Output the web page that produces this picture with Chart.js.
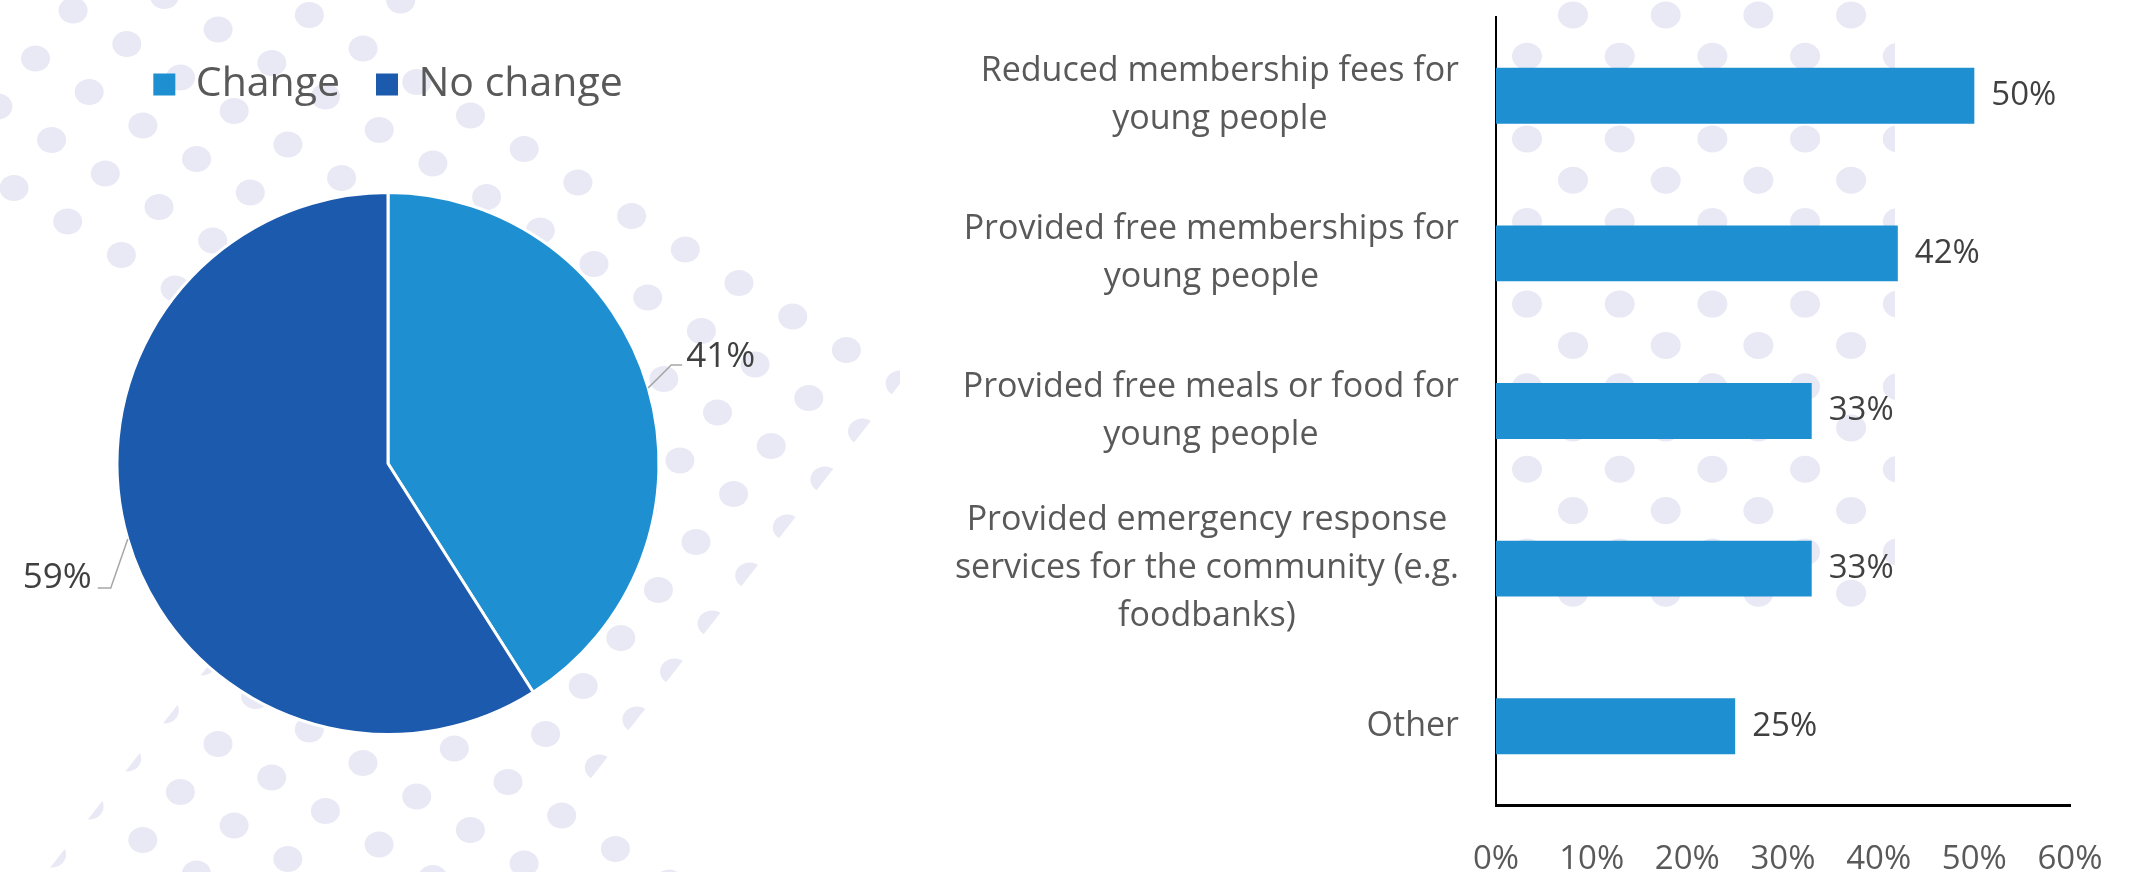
<!DOCTYPE html>
<html lang="en">
<head>
<meta charset="utf-8">
<title>Youth support</title>
<script src="https://cdn.jsdelivr.net/npm/chart.js@4.4.1/dist/chart.umd.min.js"></script>
<style>
    html, body { margin: 0; padding: 0; background: #ffffff; }
    body { width: 2129px; height: 872px; position: relative; overflow: hidden; }
    .chart-box { position: absolute; top: 0; height: 872px; }
    #pieBox { left: 0; width: 900px; }
    #barBox { left: 900px; width: 1229px; }
</style>
</head>
<body>
<div class="chart-box" id="pieBox"><canvas id="pieChart"></canvas></div>
<div class="chart-box" id="barBox"><canvas id="barChart"></canvas></div>

<script>
// Datos del gráfico circular
const pieLabels = ['Change', 'No change'];
const pieValues = [41, 59];

// Datos del gráfico de barras (cada categoría en líneas)
const barCategories = [
    ['Reduced membership fees for', 'young people'],
    ['Provided free memberships for', 'young people'],
    ['Provided free meals or food for', 'young people'],
    ['Provided emergency response', 'services for the community (e.g.', 'foodbanks)'],
    ['Other']
];
const barValues = [50, 42, 33, 33, 25];
const xTicks = [0, 10, 20, 30, 40, 50, 60];

// Colores y estilos
const COLOR_CHANGE = '#1E8FD0';
const COLOR_NO_CHANGE = '#1B5AAD';
const TEXT_DARK = '#404040';
const TEXT_MID = '#595959';
const DOT_COLOR = '#E8E9F5';
const FONT = "'Open Sans', sans-serif";

// Desplazamiento de las líneas guía de cada porción
const leaderOffsets = [
    { dx: 23, dy: -23, tail: 11, gap: 4, base: 2 },
    { dx: -17, dy: 49, tail: 13, gap: 6, base: 0 }
];

Chart.defaults.font.family = FONT;

// Dibujar un punto decorativo
function drawDot(ctx, x, y, rx, ry) {
    ctx.beginPath();
    ctx.ellipse(x, y, rx, ry, 0, 0, Math.PI * 2);
    ctx.fill();
}

// Recortar a un semiplano (lado "keep" de la recta por q con normal n)
function clipHalfPlane(ctx, qx, qy, nx, ny, offset, keepPositive) {
    const dx = -ny, dy = nx;
    const s = keepPositive ? 1 : -1;
    const bx = qx + nx * offset, by = qy + ny * offset;
    ctx.beginPath();
    ctx.moveTo(bx + dx * 200, by + dy * 200);
    ctx.lineTo(bx - dx * 200, by - dy * 200);
    ctx.lineTo(bx - dx * 200 + s * nx * 200, by - dy * 200 + s * ny * 200);
    ctx.lineTo(bx + dx * 200 + s * nx * 200, by + dy * 200 + s * ny * 200);
    ctx.closePath();
    ctx.clip();
}

// Fondo de puntos en diagonal detrás del gráfico circular
const pieDots = {
    id: 'pieDots',
    beforeDraw(chart) {
        const ctx = chart.ctx;
        const ox = 14, oy = 188;
        const ax = 91.3, ay = -14.5, bx = 53.7, by = 33.5;
        let nx = 48, ny = 37.6;
        const nl = Math.hypot(nx, ny);
        nx /= nl; ny /= nl;
        ctx.save();
        ctx.fillStyle = DOT_COLOR;
        for (let i = -12; i <= 7; i++) {
            for (let j = -8; j <= 24; j++) {
                const s = i + j;
                if (i > 5 && !(i === 6 && j <= -3)) continue;
                if (i < 0 && s < 7) continue;
                if (s > 13 && i >= -3) continue;
                const x = ox + i * ax + j * bx;
                const y = oy + i * ay + j * by;
                if (x < -20 || x > 920 || y < -20 || y > 900) continue;
                ctx.save();
                if (s === 13 && i >= -3) clipHalfPlane(ctx, x, y, nx, ny, 0, false);
                if (s === 7 && i < 0) clipHalfPlane(ctx, x, y, nx, ny, 7, true);
                drawDot(ctx, x, y, 14.5, 13);
                ctx.restore();
            }
        }
        ctx.restore();
    }
};

// Etiquetas de porcentaje con línea guía
const pieLeaders = {
    id: 'pieLeaders',
    afterDatasetsDraw(chart) {
        const ctx = chart.ctx;
        const meta = chart.getDatasetMeta(0);
        meta.data.forEach((arc, i) => {
            const p = arc.getProps(['x', 'y', 'startAngle', 'endAngle', 'outerRadius'], true);
            const mid = (p.startAngle + p.endAngle) / 2;
            const right = Math.cos(mid) >= 0;
            const px = p.x + Math.cos(mid) * p.outerRadius;
            const py = p.y + Math.sin(mid) * p.outerRadius;
            const off = leaderOffsets[i];
            const ex = px + off.dx, ey = py + off.dy;
            const hx = ex + (right ? off.tail : -off.tail);

            ctx.save();
            ctx.strokeStyle = '#A6A6A6';
            ctx.lineWidth = 1.5;
            ctx.beginPath();
            ctx.moveTo(px, py);
            ctx.lineTo(ex, ey);
            ctx.lineTo(hx, ey);
            ctx.stroke();

            ctx.fillStyle = TEXT_DARK;
            ctx.font = '35px ' + FONT;
            ctx.textAlign = right ? 'left' : 'right';
            ctx.textBaseline = 'alphabetic';
            ctx.fillText(pieValues[i] + '%', hx + (right ? off.gap : -off.gap), ey + off.base);
            ctx.restore();
        });
    }
};

// Rejilla de puntos detrás de las barras
const barDots = {
    id: 'barDots',
    beforeDraw(chart) {
        const ctx = chart.ctx;
        const left = chart.chartArea.left;
        ctx.save();
        ctx.beginPath();
        ctx.rect(left + 1, 0, 398, 620);
        ctx.clip();
        ctx.fillStyle = DOT_COLOR;
        for (let r = 0; r <= 14; r++) {
            const y = 15 + r * 41.3;
            const start = left + (r % 2 === 0 ? 77 : 31);
            for (let k = 0; k < 5; k++) {
                drawDot(ctx, start + k * 92.7, y, 15, 13.5);
            }
        }
        ctx.restore();
    }
};

// Textos de categoría centrados en bloque, alineados a la derecha
const categoryText = {
    id: 'categoryText',
    afterDraw(chart) {
        const { ctx, chartArea, scales } = chart;
        const yScale = scales.y;
        const rightEdge = chartArea.left - 37;
        ctx.save();
        ctx.font = '34px ' + FONT;
        ctx.fillStyle = TEXT_MID;
        ctx.textAlign = 'center';
        ctx.textBaseline = 'middle';
        barCategories.forEach((lines, i) => {
            const cy = yScale.getPixelForValue(i);
            const w = Math.max(...lines.map(l => ctx.measureText(l).width));
            const cx = rightEdge - w / 2;
            lines.forEach((line, k) => {
                ctx.fillText(line, cx, cy + (k - (lines.length - 1) / 2) * 48);
            });
        });
        ctx.restore();
    }
};

// Valores al final de cada barra
const valueText = {
    id: 'valueText',
    afterDatasetsDraw(chart) {
        const ctx = chart.ctx;
        const meta = chart.getDatasetMeta(0);
        ctx.save();
        ctx.font = '33px ' + FONT;
        ctx.fillStyle = TEXT_DARK;
        ctx.textAlign = 'left';
        ctx.textBaseline = 'middle';
        meta.data.forEach((bar, i) => {
            ctx.fillText(barValues[i] + '%', bar.x + 17, bar.y);
        });
        ctx.restore();
    }
};

// Gráfico circular
new Chart(document.getElementById('pieChart'), {
    type: 'pie',
    data: {
        labels: pieLabels,
        datasets: [{
            data: pieValues,
            backgroundColor: [COLOR_CHANGE, COLOR_NO_CHANGE],
            borderColor: '#ffffff',
            borderWidth: 3
        }]
    },
    options: {
        responsive: true,
        maintainAspectRatio: false,
        animation: false,
        radius: 271,
        layout: { padding: { top: 28, left: 0, right: 124, bottom: 60 } },
        plugins: {
            legend: {
                position: 'top',
                labels: {
                    boxWidth: 22,
                    boxHeight: 22,
                    padding: 36,
                    color: TEXT_MID,
                    font: { size: 41 },
                    generateLabels: chart => Chart.overrides.pie.plugins.legend.labels
                        .generateLabels(chart)
                        .map(item => ({ ...item, lineWidth: 0, strokeStyle: 'transparent' }))
                }
            },
            tooltip: { enabled: false }
        }
    },
    plugins: [pieDots, pieLeaders]
});

// Gráfico de barras horizontales
new Chart(document.getElementById('barChart'), {
    type: 'bar',
    data: {
        labels: barCategories,
        datasets: [{
            data: barValues,
            backgroundColor: COLOR_CHANGE,
            barPercentage: 0.355,
            categoryPercentage: 1
        }]
    },
    options: {
        indexAxis: 'y',
        responsive: true,
        maintainAspectRatio: false,
        animation: false,
        layout: { padding: { top: 17, right: 59, left: 0, bottom: 0 } },
        scales: {
            x: {
                min: xTicks[0],
                max: xTicks[xTicks.length - 1],
                ticks: {
                    stepSize: xTicks[1] - xTicks[0],
                    callback: v => v + '%',
                    color: TEXT_MID,
                    font: { size: 33 },
                    padding: 0
                },
                // las marcas no se dibujan, solo reservan el espacio sobre las etiquetas
                grid: { display: false, drawTicks: true, tickLength: 35 },
                border: { color: '#000000', width: 3 },
                afterFit: scale => { scale.height = 67; }
            },
            y: {
                ticks: { display: false },
                grid: { display: false, drawTicks: false },
                border: { color: '#000000', width: 2 },
                afterFit: scale => { scale.width = 596; }
            }
        },
        plugins: {
            legend: { display: false },
            tooltip: { enabled: false }
        }
    },
    plugins: [barDots, categoryText, valueText]
});
</script>
</body>
</html>
